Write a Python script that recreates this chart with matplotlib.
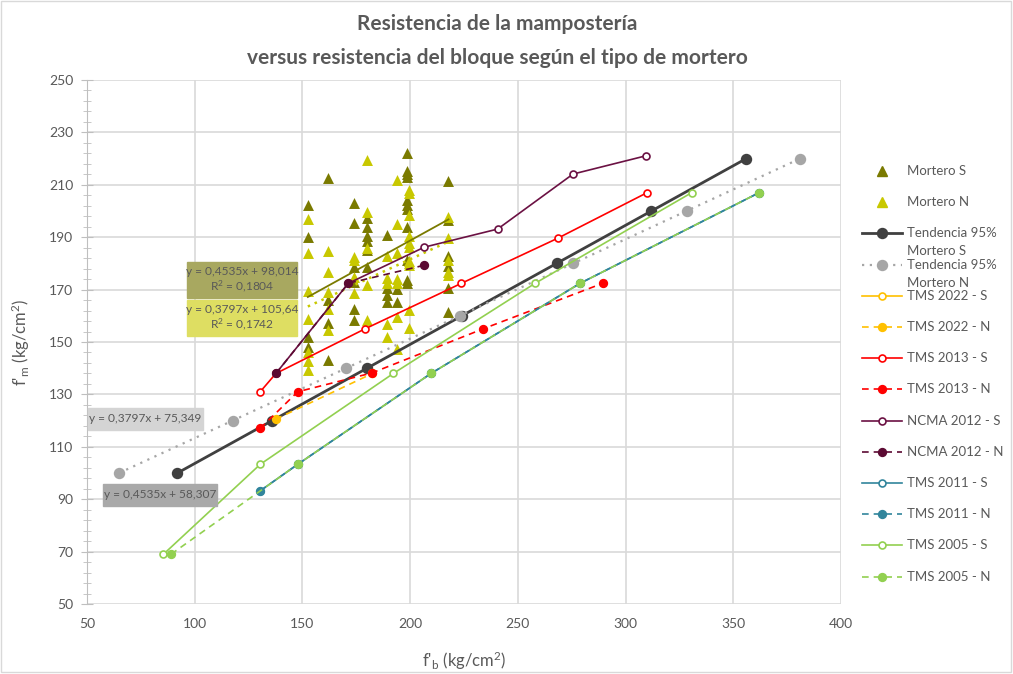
import matplotlib
matplotlib.use('Agg')
import matplotlib.pyplot as plt
from matplotlib.patches import Rectangle

plt.rcParams['font.family'] = ['Lato', 'DejaVu Sans']
plt.rcParams['mathtext.fontset'] = 'custom'
plt.rcParams['mathtext.rm'] = 'Lato'
plt.rcParams['mathtext.it'] = 'Lato:italic'

TXT = '#595959'

# Scatter data: individual tests
mort_s_x = [152.5] * 4 + [162] * 4 + [174] * 6 + [180] * 6 + [189.3] * 4 + [193.8] * 2 + [198.5] * 11 + [217.8] * 6
mort_s_y = [202.2, 190.0, 152.0, 148.0,
            212.6, 166.2, 157.3, 143.0,
            202.9, 195.5, 178.8, 172.8, 162.5, 158.3,
            197.2, 193.8, 190.5, 188.5, 185.1, 178.8,
            190.8, 170.5, 167.9, 165.4,
            170.3, 165.2,
            222.0, 215.3, 214.2, 213.0, 204.2, 202.3, 200.6, 194.0, 181.3, 173.7, 172.4,
            211.4, 196.6, 182.8, 179.0, 170.5, 161.6]
mort_n_x = [152.5] * 7 + [162] * 5 + [174] * 4 + [180] * 5 + [189.3] * 5 + [193.8] * 7 + [199.5] * 11 + [217.8] * 5
mort_n_y = [196.8, 183.9, 169.4, 158.7, 146.3, 142.7, 139.5,
            184.8, 176.8, 169.0, 162.7, 154.5,
            182.6, 181.3, 175.0, 168.6,
            219.3, 199.8, 185.8, 171.6, 158.4,
            183.0, 174.4, 172.4, 156.9, 151.8,
            211.9, 195.2, 183.8, 174.0, 172.4, 159.7, 147.3,
            208.0, 206.7, 198.5, 190.3, 187.7, 186.4, 181.0, 180.1, 179.4, 162.2, 155.2,
            197.9, 189.6, 181.3, 176.9, 175.6]

# trendline coefficients
trend_s = (0.4535, 98.014)
trend_n = (0.3797, 105.64)

# Tendencia 95%
tend_s_x = [92, 136, 180, 224, 268, 312, 356]
tend_s_y = [100, 120, 140, 160, 180, 200, 220]
tend_n_x = [64.9, 117.6, 170.3, 223.0, 275.7, 328.3, 381.0]
tend_n_y = [100, 120, 140, 160, 180, 200, 220]

# code curves
tms22_s_x, tms22_s_y = [], []
tms22_n_x = [137.5, 182.5]
tms22_n_y = [120.5, 138.0]
tms13_s_x = [130.4, 137.7, 179.0, 223.8, 268.5, 310.0]
tms13_s_y = [131.0, 138.0, 155.0, 172.4, 189.6, 207.0]
tms13_n_x = [130.4, 147.8, 182.3, 233.8, 289.4]
tms13_n_y = [117.0, 131.0, 138.2, 155.0, 172.4]
ncma_s_x = [137.7, 171.3, 206.6, 240.6, 275.6, 309.6]
ncma_s_y = [138.0, 172.4, 186.2, 193.1, 214.1, 221.1]
ncma_n_x = [137.7, 171.3, 206.6]
ncma_n_y = [138.0, 172.4, 179.3]
tms11_s_x = [130.4, 147.8, 209.7, 278.9, 362.0]
tms11_s_y = [93.2, 103.3, 138.0, 172.4, 207.0]
tms11_n_x = [130.4, 147.8, 209.7, 278.9, 362.0]
tms11_n_y = [93.2, 103.3, 138.0, 172.4, 207.0]
tms05_s_x = [85.5, 130.4, 192.2, 258.0, 330.7]
tms05_s_y = [69.0, 103.3, 138.0, 172.4, 207.0]
tms05_n_x = [89.0, 147.8, 209.7, 278.9, 362.0]
tms05_n_y = [69.0, 103.3, 138.0, 172.4, 207.0]

C_S = '#7a7a00'
C_N = '#c8c800'

fig = plt.figure(figsize=(10.13, 6.74), dpi=100)
ax = fig.add_axes([87 / 1013, 1 - 604 / 674, (841 - 87) / 1013, (604 - 80) / 674])

ax.scatter(mort_s_x, mort_s_y, marker='^', s=62, color=C_S, zorder=3, linewidths=0)
ax.scatter(mort_n_x, mort_n_y, marker='^', s=62, color=C_N, zorder=3, linewidths=0)

xs = [min(mort_s_x), max(mort_s_x)]
ax.plot(xs, [trend_s[0] * v + trend_s[1] for v in xs], color=C_S, lw=1.3, zorder=4)
xn = [min(mort_n_x), max(mort_n_x)]
ax.plot(xn, [trend_n[0] * v + trend_n[1] for v in xn], color=C_N, lw=1.8, ls=(0, (1, 2)), zorder=4)

series = [
    (tend_s_x, tend_s_y, '#404040', '-', 'full', 2.0, 7, 'Tendencia 95%\nMortero S'),
    (tend_n_x, tend_n_y, '#a6a6a6', (0, (1, 2.5)), 'full', 1.6, 7, 'Tendencia 95%\nMortero N'),
    (tms22_s_x, tms22_s_y, '#ffc000', '-', 'none', 1.2, 5, 'TMS 2022 - S'),
    (tms22_n_x, tms22_n_y, '#ffc000', (0, (4, 3)), 'full', 1.2, 5.5, 'TMS 2022 - N'),
    (tms13_s_x, tms13_s_y, '#ff0000', '-', 'none', 1.2, 5, 'TMS 2013 - S'),
    (tms13_n_x, tms13_n_y, '#ff0000', (0, (4, 3)), 'full', 1.2, 5.5, 'TMS 2013 - N'),
    (ncma_s_x, ncma_s_y, '#6b1143', '-', 'none', 1.2, 5, 'NCMA 2012 - S'),
    (ncma_n_x, ncma_n_y, '#5c0a33', (0, (4, 3)), 'full', 1.2, 5.5, 'NCMA 2012 - N'),
    (tms11_s_x, tms11_s_y, '#31859c', '-', 'none', 1.2, 5, 'TMS 2011 - S'),
    (tms11_n_x, tms11_n_y, '#31859c', (0, (4, 3)), 'full', 1.2, 5.5, 'TMS 2011 - N'),
    (tms05_s_x, tms05_s_y, '#92d050', '-', 'none', 1.2, 5, 'TMS 2005 - S'),
    (tms05_n_x, tms05_n_y, '#92d050', (0, (4, 3)), 'full', 1.2, 5.5, 'TMS 2005 - N'),
]

for i, (x, y, c, ls, fill, lw, ms, lab) in enumerate(series):
    mfc = c if fill == 'full' else 'white'
    ax.plot(x, y, color=c, ls=ls, lw=lw, marker='o', ms=ms, mfc=mfc, mec=c,
            mew=1.2, zorder=5 + i * 0.1)

ax.set_xlim(50, 400)
ax.set_ylim(50, 250)
ax.set_xticks(range(50, 401, 50))
ax.set_yticks(range(50, 251, 20))
ax.set_yticks(range(50, 251, 4), minor=True)
ax.grid(True, color='#d9d9d9', lw=1.2)
ax.set_axisbelow(True)
for s in ['top', 'right', 'bottom']:
    ax.spines[s].set_visible(False)
ax.spines['left'].set_color('#bfbfbf')
ax.tick_params(axis='y', which='both', direction='inout', color='#bfbfbf', labelsize=10, labelcolor=TXT)
ax.tick_params(axis='y', which='major', length=8)
ax.tick_params(axis='y', which='minor', length=6)
ax.tick_params(axis='x', length=0, labelsize=10, labelcolor=TXT, pad=10)
ax.tick_params(axis='y', pad=6)

ax.set_xlabel("f'$_{\\mathrm{b}}$ (kg/cm$^{2}$)", fontsize=12, color=TXT, labelpad=14)
ax.set_ylabel("f'$_{\\mathrm{m}}$ (kg/cm$^{2}$)", fontsize=12, color=TXT, labelpad=12)

fig.text(497 / 1013, 1 - 24 / 674, 'Resistencia de la mampostería', ha='center', va='center',
         fontsize=15, fontweight='bold', color=TXT)
fig.text(497 / 1013, 1 - 58 / 674, 'versus resistencia del bloque según el tipo de mortero', ha='center',
         va='center', fontsize=15, fontweight='bold', color=TXT)

# overlay in pixel coordinates for labels and legend
ov = fig.add_axes([0, 0, 1, 1])
ov.set_xlim(0, 1013)
ov.set_ylim(674, 0)
ov.axis('off')
ov.patch.set_visible(False)

boxes = [
    (187, 262, 110, 36, '#a8a860', 'y = 0,4535x + 98,014\nR$^{2}$ = 0,1804'),
    (187, 300, 110, 36, '#dede62', 'y = 0,3797x + 105,64\nR$^{2}$ = 0,1742'),
    (88, 408, 115, 22, '#d4d4d4', 'y = 0,3797x + 75,349'),
    (103, 484, 114, 22, '#a9a9a9', 'y = 0,4535x + 58,307'),
]
for bx, by, bw, bh, bc, bt in boxes:
    ov.add_patch(Rectangle((bx, by), bw, bh, color=bc, zorder=10))
    ov.text(bx + bw / 2, by + bh / 2, bt, ha='center', va='center', fontsize=8.6,
            color=TXT, zorder=11, linespacing=1.15)

# legend
ly0, dy = 171, 31.2
ov.plot([882], [ly0], marker='^', ms=7, color=C_S, ls='none')
ov.text(907, ly0, 'Mortero S', va='center', fontsize=9.5, color=TXT)
ov.plot([882], [ly0 + dy], marker='^', ms=7, color=C_N, ls='none')
ov.text(907, ly0 + dy, 'Mortero N', va='center', fontsize=9.5, color=TXT)
for i, (x, y, c, ls, fill, lw, ms, lab) in enumerate(series):
    yy = ly0 + dy * (i + 2)
    mfc = c if fill == 'full' else 'white'
    ov.plot([862, 902], [yy, yy], color=c, ls=ls, lw=lw)
    ov.plot([882], [yy], marker='o', ms=ms, mfc=mfc, mec=c, mew=1.2, ls='none')
    for k, line in enumerate(lab.split('\n')):
        ov.text(907, yy + 18 * k, line, va='center', fontsize=9.5, color=TXT)

ov.add_patch(Rectangle((1, 1), 1010, 671, fill=False, ec='#d9d9d9', lw=1))

fig.savefig('out.png', dpi=100)
